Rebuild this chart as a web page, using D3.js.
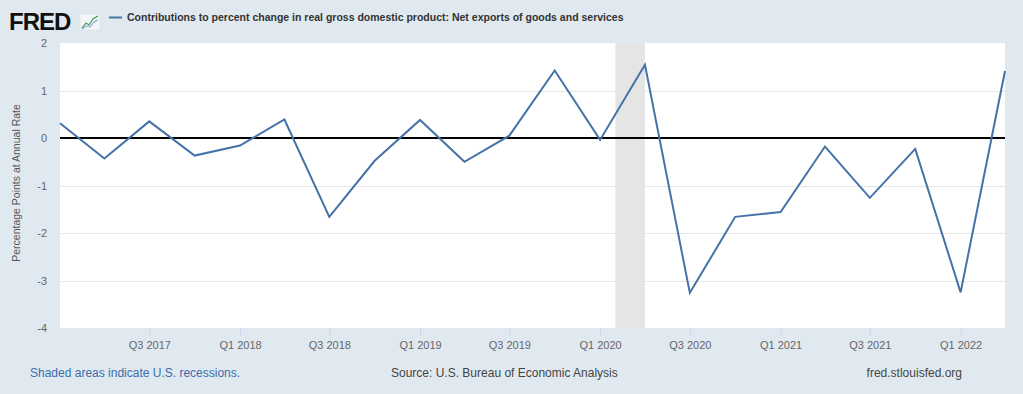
<!DOCTYPE html>
<html>
<head>
<meta charset="utf-8">
<script src="https://cdn.jsdelivr.net/npm/d3@7"></script>
<style>
  html, body { margin: 0; padding: 0; background: #e1e9f0; }
  svg { display: block; }
</style>
</head>
<body>
<svg id="chart" width="1023" height="394"></svg>
<script>
// ---- data ----
const dates = ["2017-01-01","2017-04-01","2017-07-01","2017-10-01","2018-01-01","2018-04-01",
  "2018-07-01","2018-10-01","2019-01-01","2019-04-01","2019-07-01","2019-10-01",
  "2020-01-01","2020-04-01","2020-07-01","2020-10-01","2021-01-01","2021-04-01",
  "2021-07-01","2021-10-01","2022-01-01","2022-04-01"];
const values = [0.31, -0.43, 0.35, -0.37, -0.16, 0.39,
  -1.66, -0.48, 0.38, -0.50, 0.05, 1.42,
  -0.04, 1.54, -3.26, -1.66, -1.56, -0.18,
  -1.26, -0.23, -3.25, 1.41];
const recessions = [["2020-02-01", "2020-04-01"]];
const yTicks = [-4, -3, -2, -1, 0, 1, 2];
const xTickDates = ["2017-07-01","2018-01-01","2018-07-01","2019-01-01","2019-07-01",
  "2020-01-01","2020-07-01","2021-01-01","2021-07-01","2022-01-01"];
const seriesTitle = "Contributions to percent change in real gross domestic product: Net exports of goods and services";
const yLabel = "Percentage Points at Annual Rate";

const parse = d3.utcParse("%Y-%m-%d");
const data = dates.map((d, i) => ({ date: parse(d), value: values[i] }));

const svg = d3.select("#chart");
const font = "'Liberation Sans', Arial, Helvetica, sans-serif";

const plot = { left: 60, right: 1005, top: 43, bottom: 328 };

const x = d3.scaleUtc()
  .domain([parse("2017-01-01"), parse("2022-04-01")])
  .range([plot.left, plot.right]);
const y = d3.scaleLinear().domain([-4, 2]).range([plot.bottom, plot.top]);

// plot background
svg.append("rect")
  .attr("x", plot.left).attr("y", plot.top)
  .attr("width", plot.right - plot.left).attr("height", plot.bottom - plot.top)
  .attr("fill", "#ffffff");

// recession shading
svg.selectAll("rect.rec").data(recessions).join("rect")
  .attr("class", "rec")
  .attr("x", d => x(parse(d[0])))
  .attr("y", plot.top)
  .attr("width", d => x(parse(d[1])) - x(parse(d[0])))
  .attr("height", plot.bottom - plot.top)
  .attr("fill", "#e5e5e5");

// gridlines
svg.append("g").selectAll("line").data(yTicks.filter(t => t !== 0 && t !== 2 && t !== -4)).join("line")
  .attr("x1", plot.left).attr("x2", plot.right)
  .attr("y1", d => Math.round(y(d)) + 0.5).attr("y2", d => Math.round(y(d)) + 0.5)
  .attr("stroke", "#e6e6e6").attr("stroke-width", 1);

// y axis labels
const yAxis = d3.axisLeft(y).tickValues(yTicks).tickSize(0).tickPadding(0).tickFormat(d => String(d));
const gy = svg.append("g").attr("transform", `translate(${plot.left - 13},0)`).call(yAxis);
gy.select(".domain").remove();
gy.selectAll("text").attr("font-family", font).attr("font-size", 11).attr("fill", "#666666").attr("dy", "0.35em");

// x axis
const xAxis = d3.axisBottom(x)
  .tickValues(xTickDates.map(parse))
  .tickSize(8).tickPadding(5)
  .tickFormat(d => `Q${Math.floor(d.getUTCMonth() / 3) + 1} ${d.getUTCFullYear()}`);
const gx = svg.append("g").attr("transform", `translate(0,${plot.bottom})`).call(xAxis);
gx.select(".domain").remove();
gx.selectAll(".tick line").attr("stroke", "#ccd6eb");
gx.selectAll("text").attr("font-family", font).attr("font-size", 11).attr("fill", "#666666");

// zero line
svg.append("line")
  .attr("x1", plot.left).attr("x2", plot.right)
  .attr("y1", y(0)).attr("y2", y(0))
  .attr("stroke", "#000000").attr("stroke-width", 2);

// series line
const line = d3.line().x(d => x(d.date)).y(d => y(d.value));
svg.append("path").datum(data)
  .attr("d", line)
  .attr("fill", "none")
  .attr("stroke", "#4572a7")
  .attr("stroke-width", 2)
  .attr("stroke-linejoin", "miter");

// y label
svg.append("text")
  .attr("transform", `translate(20,183) rotate(-90)`)
  .attr("text-anchor", "middle")
  .attr("font-family", font).attr("font-size", 10.5).attr("fill", "#555555")
  .text(yLabel);

// header: FRED logo
svg.append("text")
  .attr("x", 9).attr("y", 30)
  .attr("font-family", font).attr("font-size", 24).attr("font-weight", "bold")
  .attr("letter-spacing", "-1").attr("fill", "#111111")
  .text("FRED");
const icon = svg.append("g").attr("transform", "translate(80,14)");
icon.append("rect").attr("width", 20).attr("height", 16).attr("fill", "#f3f5f7").attr("stroke", "#d8dde3").attr("stroke-width", 0.5);
icon.append("path").attr("d", "M2,14 L6,9 L9,11 L13,5 L18,2").attr("fill", "none").attr("stroke", "#4c9a5a").attr("stroke-width", 1.2);
icon.append("path").attr("d", "M2,15 L6,12 L10,13 L14,8 L18,6").attr("fill", "none").attr("stroke", "#7fa7d0").attr("stroke-width", 1.1);

// legend
svg.append("line").attr("x1", 109).attr("x2", 122).attr("y1", 17.5).attr("y2", 17.5)
  .attr("stroke", "#4572a7").attr("stroke-width", 2);
svg.append("text")
  .attr("x", 127).attr("y", 21)
  .attr("font-family", font).attr("font-size", 10.5).attr("font-weight", "bold").attr("fill", "#333333")
  .text(seriesTitle);

// footer
svg.append("text").attr("x", 30).attr("y", 377)
  .attr("font-family", font).attr("font-size", 12).attr("fill", "#3c6daa")
  .text("Shaded areas indicate U.S. recessions.");
svg.append("text").attr("x", 391).attr("y", 377)
  .attr("font-family", font).attr("font-size", 12).attr("fill", "#444444")
  .text("Source: U.S. Bureau of Economic Analysis");
svg.append("text").attr("x", 962).attr("y", 377).attr("text-anchor", "end")
  .attr("font-family", font).attr("font-size", 12).attr("fill", "#444444")
  .text("fred.stlouisfed.org");
</script>
</body>
</html>
